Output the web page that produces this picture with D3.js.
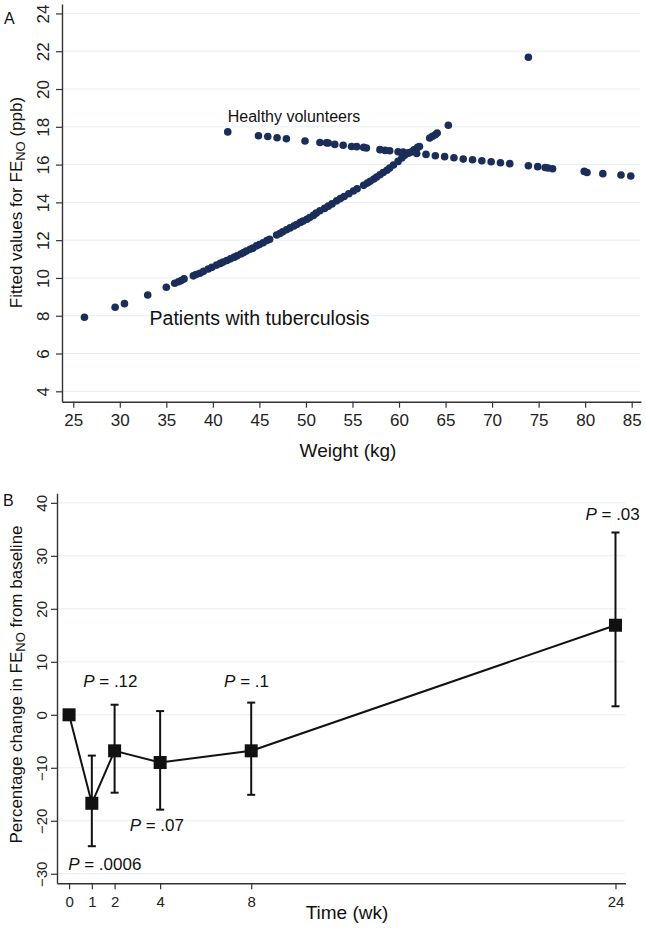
<!DOCTYPE html>
<html><head><meta charset="utf-8">
<script src="https://cdn.jsdelivr.net/npm/d3@7"></script>
<style>
html,body{margin:0;padding:0;background:#fff;}
svg{display:block;font-family:"Liberation Sans",Arial,sans-serif;}
</style></head>
<body><svg id="c" width="646" height="930"></svg>
<script>
// ---------- Panel A data ----------
const patientWeight = [26.2,29.5,30.5,33.0,35.0,35.9,36.3,36.6,36.9,37.9,38.2,38.6,39.0,39.5,39.9,40.4,40.8,41.1,41.5,41.9,42.3,42.6,43.0,43.3,43.6,44.0,44.3,44.7,45.0,45.4,45.8,46.1,46.85,47.2,47.5,47.9,48.3,48.7,49.0,49.4,49.7,50.1,50.4,50.8,51.1,51.5,52.0,52.4,52.8,53.3,53.7,54.1,54.6,55.1,55.5,56.2,56.6,56.9,57.3,57.6,57.95,58.3,58.7,59.0,59.4,59.9,60.3,60.6,61.0,61.3,61.6,62.0,62.2,63.3,63.6,63.9,64.1,65.3];
const patientFitted = [7.92,8.45,8.64,9.10,9.51,9.72,9.80,9.86,9.95,10.11,10.18,10.25,10.35,10.47,10.56,10.68,10.77,10.84,10.92,11.01,11.10,11.17,11.27,11.34,11.42,11.52,11.58,11.70,11.77,11.86,11.98,12.05,12.27,12.35,12.44,12.55,12.65,12.75,12.83,12.94,13.01,13.11,13.20,13.31,13.43,13.56,13.68,13.80,13.92,14.08,14.20,14.31,14.46,14.60,14.72,14.90,15.02,15.12,15.24,15.34,15.46,15.58,15.70,15.82,15.98,16.17,16.35,16.50,16.60,16.66,16.78,16.91,16.96,17.41,17.50,17.58,17.67,18.08];
const healthyWeight = [41.6,44.9,45.9,46.9,47.9,49.9,51.5,52.2,52.4,53.1,54.0,54.9,55.45,56.2,56.5,57.95,58.5,59.0,59.9,60.45,61.0,61.9,62.9,63.9,64.9,65.9,66.9,67.9,68.9,69.9,70.9,71.9,73.9,74.9,75.7,76.0,76.5,79.9,80.2,81.9,83.85,84.9,73.9];
const healthyFitted = [17.73,17.53,17.49,17.42,17.37,17.25,17.17,17.15,17.14,17.07,17.02,16.96,16.95,16.91,16.88,16.79,16.75,16.73,16.68,16.67,16.63,16.59,16.54,16.47,16.42,16.36,16.29,16.26,16.20,16.15,16.10,16.05,15.94,15.89,15.85,15.82,15.78,15.64,15.58,15.52,15.45,15.40,21.68];
const weightTicks = [25,30,35,40,45,50,55,60,65,70,75,80,85];
const fittedTicks = [4,6,8,10,12,14,16,18,20,22,24];
const groupLabels = ["Healthy volunteers","Patients with tuberculosis"];
const groupLabelWeight = [41.6,33.2];
const groupLabelFitted = [18.23,7.5];

// ---------- Panel B data ----------
const weeks = [0,1,2,4,8,24];
const pctChange = [0,-16.7,-6.8,-9.0,-6.8,16.9];
const ciLow = [0,-24.8,-14.7,-17.9,-15.1,1.6];
const ciHigh = [0,-7.7,1.9,0.7,2.3,34.4];
const weekTicks = [0,1,2,4,8,24];
const pctTicks = [-30,-20,-10,0,10,20,30,40];
const pLabels = [".0006",".12",".07",".1",".03"];
const pLabelWeek = [-0.04,0.62,2.66,6.81,22.68];
const pLabelPct = [-29.3,5.3,-21.9,5.3,36.7];

const svg = d3.select("#c");
const GRID = "#e5eef2", DOT = "#1b2d59";

// ================= Panel A =================
const xA = d3.scaleLinear().domain([23.79,86.0]).range([62,641]);
const yA = d3.scaleLinear().domain([3.45,24.5]).range([401.7,4]);
const gA = svg.append("g");

gA.selectAll("line.grid").data(fittedTicks).join("line")
  .attr("x1",62).attr("x2",640).attr("y1",d=>yA(d)).attr("y2",d=>yA(d))
  .attr("stroke",GRID).attr("stroke-width",1);

const axA_y = gA.append("g").attr("transform","translate(62,0)")
  .call(d3.axisLeft(yA).tickValues(fittedTicks).tickSize(6).tickSizeOuter(0));
axA_y.selectAll("text").attr("transform","rotate(-90)").attr("x",0).attr("y",-19)
  .attr("dy",null).attr("dominant-baseline","central").attr("text-anchor","middle")
  .style("font-size","17px").style("font-family","Liberation Sans").attr("fill","#222");
const axA_x = gA.append("g").attr("transform","translate(0,401.7)")
  .call(d3.axisBottom(xA).tickValues(weightTicks).tickSize(6).tickSizeOuter(0));
axA_x.selectAll("text").attr("y",12).attr("dy","0.71em")
  .style("font-size","17px").style("font-family","Liberation Sans").attr("fill","#222");
[axA_y,axA_x].forEach(a=>{a.select(".domain").attr("stroke","#333").attr("stroke-width",1.4);
  a.selectAll(".tick line").attr("stroke","#333").attr("stroke-width",1.2);});

gA.append("g").selectAll("circle").data(patientWeight.map((w,i)=>[w,patientFitted[i]])).join("circle")
  .attr("cx",d=>xA(d[0])).attr("cy",d=>yA(d[1])).attr("r",3.8).attr("fill",DOT);
gA.append("g").selectAll("circle").data(healthyWeight.map((w,i)=>[w,healthyFitted[i]])).join("circle")
  .attr("cx",d=>xA(d[0])).attr("cy",d=>yA(d[1])).attr("r",3.8).attr("fill",DOT);

gA.selectAll("text.grp").data(groupLabels).join("text").attr("class","grp")
  .attr("x",(d,i)=>xA(groupLabelWeight[i])).attr("y",(d,i)=>yA(groupLabelFitted[i]))
  .style("font-size",(d,i)=>i===0?"16px":"19.5px").attr("fill","#111").text(d=>d);

const tA = gA.append("text").attr("transform","translate(22,202.5) rotate(-90)")
  .attr("text-anchor","middle").style("font-size","17px").attr("fill","#111");
tA.append("tspan").text("Fitted values for FE");
tA.append("tspan").attr("dy",3).style("font-size","13px").text("NO");
tA.append("tspan").attr("dy",-3).text(" (ppb)");
gA.append("text").attr("x",348).attr("y",457).attr("text-anchor","middle")
  .style("font-size","19px").attr("fill","#111").text("Weight (kg)");
svg.append("text").attr("x",4).attr("y",24).style("font-size","16px").attr("fill","#111").text("A");

// ================= Panel B =================
const xB = d3.scaleLinear().domain([-0.53,24.44]).range([57,625.5]);
const yB = d3.scaleLinear().domain([-31.8,41.8]).range([883.3,493.3]);
const gB = svg.append("g");

gB.selectAll("line.grid").data(pctTicks).join("line")
  .attr("x1",57).attr("x2",625).attr("y1",d=>yB(d)).attr("y2",d=>yB(d))
  .attr("stroke",GRID).attr("stroke-width",1);

const axB_y = gB.append("g").attr("transform","translate(57,0)")
  .call(d3.axisLeft(yB).tickValues(pctTicks).tickSize(6).tickSizeOuter(0));
axB_y.selectAll("text").attr("transform","rotate(-90)").attr("x",0).attr("y",-16)
  .attr("dy",null).attr("dominant-baseline","central").attr("text-anchor","middle")
  .style("font-size","15px").style("font-family","Liberation Sans").attr("fill","#222");
const axB_x = gB.append("g").attr("transform","translate(0,883.3)")
  .call(d3.axisBottom(xB).tickValues(weekTicks).tickSize(6).tickSizeOuter(0));
axB_x.selectAll("text").attr("y",13).attr("dy","0.71em")
  .style("font-size","15px").style("font-family","Liberation Sans").attr("fill","#222");
[axB_y,axB_x].forEach(a=>{a.select(".domain").attr("stroke","#333").attr("stroke-width",1.4);
  a.selectAll(".tick line").attr("stroke","#333").attr("stroke-width",1.2);});

const pts = weeks.map((w,i)=>({w,v:pctChange[i],lo:ciLow[i],hi:ciHigh[i]}));
const eb = gB.append("g").selectAll("g").data(pts.filter(d=>d.hi!==d.lo)).join("g");
eb.append("line").attr("x1",d=>xB(d.w)).attr("x2",d=>xB(d.w)).attr("y1",d=>yB(d.lo)).attr("y2",d=>yB(d.hi))
  .attr("stroke","#111").attr("stroke-width",2);
eb.append("line").attr("x1",d=>xB(d.w)-4).attr("x2",d=>xB(d.w)+4).attr("y1",d=>yB(d.lo)).attr("y2",d=>yB(d.lo))
  .attr("stroke","#111").attr("stroke-width",2);
eb.append("line").attr("x1",d=>xB(d.w)-4).attr("x2",d=>xB(d.w)+4).attr("y1",d=>yB(d.hi)).attr("y2",d=>yB(d.hi))
  .attr("stroke","#111").attr("stroke-width",2);

gB.append("path").datum(pts).attr("fill","none").attr("stroke","#111").attr("stroke-width",2)
  .attr("d",d3.line().x(d=>xB(d.w)).y(d=>yB(d.v)));
gB.append("g").selectAll("rect").data(pts).join("rect")
  .attr("x",d=>xB(d.w)-6.5).attr("y",d=>yB(d.v)-6.5).attr("width",13).attr("height",13).attr("fill","#111");

const pl = gB.selectAll("text.p").data(pLabels).join("text").attr("class","p")
  .attr("x",(d,i)=>xB(pLabelWeek[i])).attr("y",(d,i)=>yB(pLabelPct[i]))
  .style("font-size","17px").attr("fill","#111");
pl.append("tspan").style("font-style","italic").text("P");
pl.append("tspan").text(d=>" = "+d);

const tB = gB.append("text").attr("transform","translate(22,684.5) rotate(-90)")
  .attr("text-anchor","middle").style("font-size","17px").attr("fill","#111");
tB.append("tspan").text("Percentage change in FE");
tB.append("tspan").attr("dy",3).style("font-size","13px").text("NO");
tB.append("tspan").attr("dy",-3).text(" from baseline");
gB.append("text").attr("x",347).attr("y",919).attr("text-anchor","middle")
  .style("font-size","19px").attr("fill","#111").text("Time (wk)");
svg.append("text").attr("x",3).attr("y",506).style("font-size","16px").attr("fill","#111").text("B");
</script></body></html>
